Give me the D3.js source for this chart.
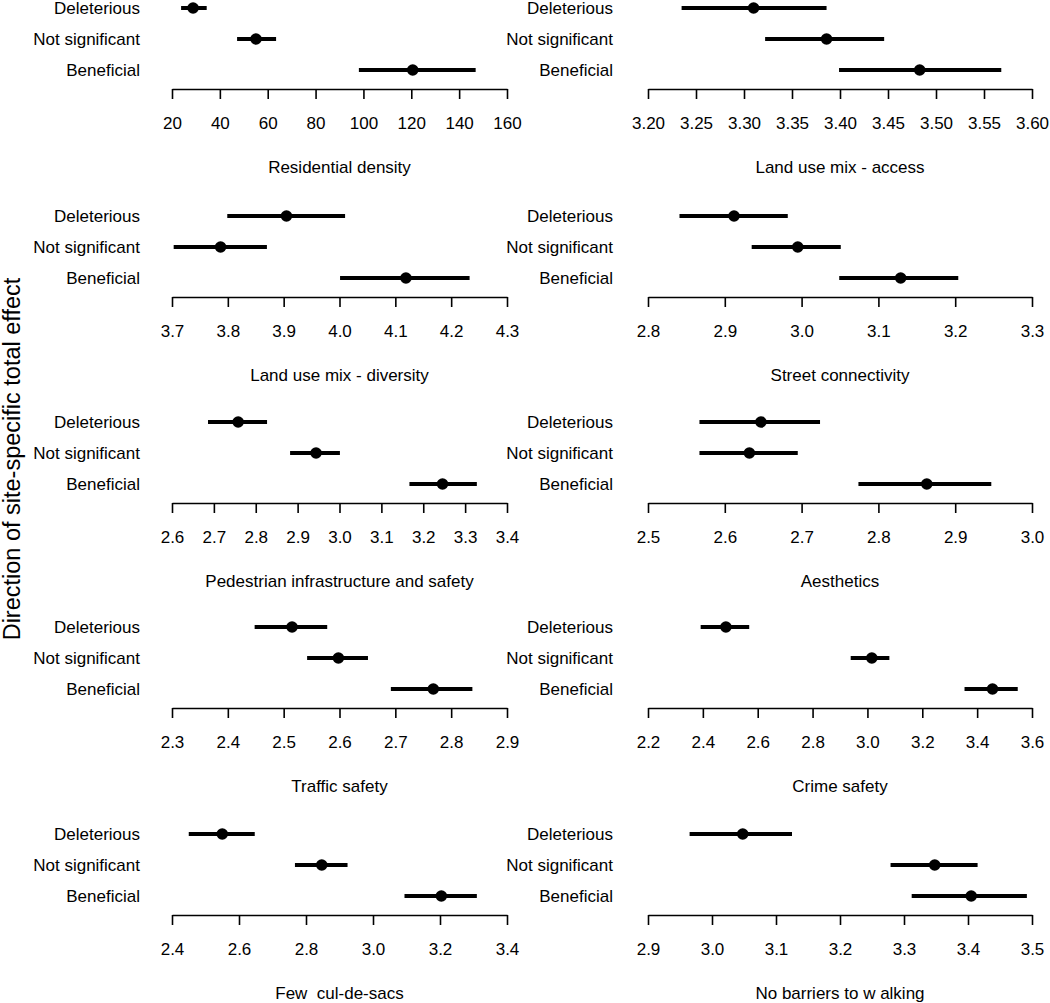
<!DOCTYPE html>
<html>
<head>
<meta charset="utf-8">
<script src="https://cdn.jsdelivr.net/npm/d3@7"></script>
<style>
  html, body { margin: 0; padding: 0; background: #fff; }
  svg { display: block; }
  text { font-family: "Liberation Sans", Arial, sans-serif; fill: #000; }
</style>
</head>
<body>
<svg id="chart" width="1050" height="1003"></svg>
<script>
// ---- data ----
const categories = ["Deleterious", "Not significant", "Beneficial"];
const panelTitles = [
  "Residential density", "Land use mix - access",
  "Land use mix - diversity", "Street connectivity",
  "Pedestrian infrastructure and safety", "Aesthetics",
  "Traffic safety", "Crime safety",
  "Few  cul-de-sacs", "No barriers to w alking"
];
const tickLabels = [
  ["20","40","60","80","100","120","140","160"],
  ["3.20","3.25","3.30","3.35","3.40","3.45","3.50","3.55","3.60"],
  ["3.7","3.8","3.9","4.0","4.1","4.2","4.3"],
  ["2.8","2.9","3.0","3.1","3.2","3.3"],
  ["2.6","2.7","2.8","2.9","3.0","3.1","3.2","3.3","3.4"],
  ["2.5","2.6","2.7","2.8","2.9","3.0"],
  ["2.3","2.4","2.5","2.6","2.7","2.8","2.9"],
  ["2.2","2.4","2.6","2.8","3.0","3.2","3.4","3.6"],
  ["2.4","2.6","2.8","3.0","3.2","3.4"],
  ["2.9","3.0","3.1","3.2","3.3","3.4","3.5"]
];
// estimates (Deleterious, Not significant, Beneficial)
const estimates = [
  [28.8, 55.1, 120.6],
  [3.310, 3.386, 3.483],
  [3.905, 3.787, 4.119],
  [2.912, 2.995, 3.129],
  [2.758, 2.944, 3.246],
  [2.647, 2.632, 2.863],
  [2.515, 2.598, 2.768],
  [2.484, 3.016, 3.456],
  [2.550, 2.847, 3.204],
  [3.048, 3.348, 3.405]
];
const lower = [
  [23.8, 47.2, 98.1],
  [3.235, 3.322, 3.399],
  [3.799, 3.703, 4.001],
  [2.841, 2.935, 3.049],
  [2.686, 2.882, 3.167],
  [2.567, 2.567, 2.774],
  [2.448, 2.542, 2.692],
  [2.392, 2.939, 3.354],
  [2.450, 2.767, 3.094],
  [2.965, 3.279, 3.312]
];
const upper = [
  [34.5, 63.5, 146.9],
  [3.386, 3.446, 3.568],
  [4.010, 3.870, 4.233],
  [2.982, 3.051, 3.204],
  [2.827, 3.001, 3.328],
  [2.724, 2.695, 2.947],
  [2.578, 2.651, 2.838],
  [2.569, 3.080, 3.548],
  [2.647, 2.924, 3.310],
  [3.125, 3.415, 3.492]
];
const yTitle = "Direction of site-specific total effect";

// ---- layout ----
const svg = d3.select("#chart");
const colX = [[172, 507], [648, 1032]];
const labelRight = [140, 613];
const axisYs = [89, 297, 503, 708, 915];
const fs = 17;

panelTitles.forEach((title, i) => {
  const col = i % 2, row = Math.floor(i / 2);
  const ay = axisYs[row];
  const ticks = tickLabels[i].map(Number);
  const x = d3.scaleLinear().domain([ticks[0], ticks[ticks.length - 1]]).range(colX[col]);
  const y = d3.scalePoint().domain(categories).range([ay - 81, ay - 19]);
  const g = svg.append("g");

  // axis
  const axis = d3.axisBottom(x)
    .tickValues(ticks)
    .tickFormat((d, k) => tickLabels[i][k])
    .tickSizeInner(10).tickSizeOuter(0).tickPadding(18);
  const ag = g.append("g").attr("transform", `translate(0,${ay})`).call(axis);
  ag.select(".domain").attr("stroke", "#000").attr("stroke-width", 1.6);
  ag.selectAll(".tick line").attr("stroke", "#000").attr("stroke-width", 1.6);
  ag.selectAll(".tick text").attr("font-size", fs).attr("font-family", "Liberation Sans, Arial, sans-serif").attr("fill", "#000");

  // axis title
  g.append("text")
    .attr("x", (colX[col][0] + colX[col][1]) / 2)
    .attr("y", ay + 84)
    .attr("text-anchor", "middle")
    .attr("font-size", fs)
    .style("white-space", "pre")
    .text(title);

  // category labels
  g.selectAll("text.cat").data(categories).enter().append("text")
    .attr("class", "cat")
    .attr("x", labelRight[col])
    .attr("y", d => y(d))
    .attr("dy", "0.35em")
    .attr("text-anchor", "end")
    .attr("font-size", fs)
    .text(d => d);

  // CI lines
  g.selectAll("line.ci").data(categories).enter().append("line")
    .attr("class", "ci")
    .attr("x1", (d, k) => x(lower[i][k]))
    .attr("x2", (d, k) => x(upper[i][k]))
    .attr("y1", d => y(d)).attr("y2", d => y(d))
    .attr("stroke", "#000").attr("stroke-width", 4);

  // points
  g.selectAll("circle.pt").data(categories).enter().append("circle")
    .attr("class", "pt")
    .attr("cx", (d, k) => x(estimates[i][k]))
    .attr("cy", d => y(d))
    .attr("r", 5.8)
    .attr("fill", "#000");
});

// y title
svg.append("text")
  .attr("transform", "translate(20,459) rotate(-90)")
  .attr("text-anchor", "middle")
  .attr("font-size", 23.5)
  .text(yTitle);
</script>
</body>
</html>
